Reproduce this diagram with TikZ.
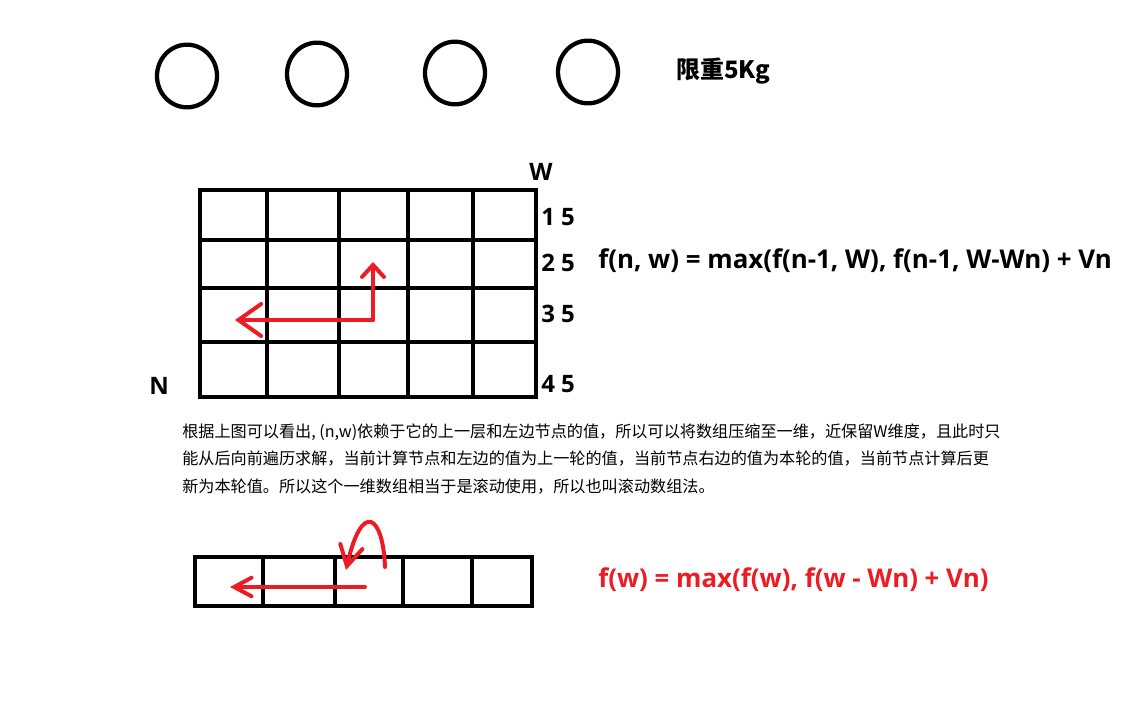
\documentclass[tikz,border=0pt]{standalone}
\usepackage{fontspec}
\setmainfont{Open Sans}
\newfontfamily\cjk{Noto Sans CJK SC}
\usetikzlibrary{arrows.meta,shapes.geometric}
\definecolor{penred}{HTML}{ED1C24}

\begin{document}
\begin{tikzpicture}[x=0.75pt, y=-0.75pt,
    ball_style/.style={draw, ellipse, line width=3.2pt, minimum width=45pt, minimum height=47pt, inner sep=0pt},
    grid_line/.style={line width=3.6pt, line cap=rect},
    red_arrow/.style={penred, line width=3pt, line cap=round},
    label_style/.style={font=\bfseries\fontsize{18pt}{20pt}\selectfont, inner sep=0pt, anchor=base west},
    formula_style/.style={font=\bfseries\fontsize{19.4pt}{22pt}\selectfont, inner sep=0pt, anchor=base west},
    note_style/.style={font=\cjk\fontsize{12.1pt}{14pt}\selectfont, inner sep=0pt, anchor=base west}
]
    \useasboundingbox (0,0) rectangle (1146,712);

    % Four items and the weight limit
    \node (ball1) at (187,76) [ball_style] {};
    \node (ball2) at (317,74) [ball_style] {};
    \node (ball3) at (455,73) [ball_style] {};
    \node (ball4) at (588,72) [ball_style] {};
    \node (limit) at (676,79) [anchor=base west, inner sep=0pt, font=\cjk\bfseries\fontsize{18pt}{20pt}\selectfont] {限重5Kg};

    % The two-dimensional table
    \foreach \x in {200,267,339,408,473,536} \draw[grid_line] (\x,190) -- (\x,397);
    \foreach \y in {190,240,288,342,397} \draw[grid_line] (200,\y) -- (536,\y);

    % Axis names and row labels
    \node (w_axis) at (529,181) [label_style] {W};
    \node (n_axis) at (149,395) [label_style] {N};
    \node (row1) at (541,226) [label_style] {1 5};
    \node (row2) at (541,272) [label_style] {2 5};
    \node (row3) at (541,323) [label_style] {3 5};
    \node (row4) at (541,393) [label_style] {4 5};

    % Dependencies of one cell
    \coordinate (cell) at (373,320);
    \coordinate (cell_up) at (373,262);
    \coordinate (cell_left) at (235,320);
    \draw[red_arrow, -{Straight Barb[length=9pt, width=16.5pt, line cap=round]}] (cell) -- (cell_up);
    \draw[red_arrow, -{Straight Barb[length=17pt, width=24pt, line cap=round]}] (cell) -- (cell_left);

    % Recurrence for the table
    \node (rec2d) at (598,269) [formula_style] {f(n, w) = max(f(n-1, W), f(n-1, W-Wn) + Vn};

    % Explanation
    \node (note1) at (182,438) [note_style] {根据上图可以看出, (n,w)依赖于它的上一层和左边节点的值，所以可以将数组压缩至一维，近保留W维度，且此时只};
    \node (note2) at (182,465) [note_style] {能从后向前遍历求解，当前计算节点和左边的值为上一轮的值，当前节点右边的值为本轮的值，当前节点计算后更};
    \node (note3) at (182,493) [note_style] {新为本轮值。所以这个一维数组相当于是滚动使用，所以也叫滚动数组法。};

    % The rolling one-dimensional array
    \foreach \x in {195,263,335,403,472,532} \draw[grid_line] (\x,557) -- (\x,606);
    \foreach \y in {557,606} \draw[grid_line] (195,\y) -- (532,\y);

    \coordinate (slot) at (365,587);
    \coordinate (slot_left) at (230,587);
    \coordinate (loop_start) at (385,567);
    \coordinate (loop_end) at (346,570);
    \draw[red_arrow, -{Straight Barb[length=13pt, width=14pt, line cap=round]}] (slot) -- (slot_left);
    \draw[red_arrow, -{Straight Barb[length=15pt, width=17pt, line cap=round]}] (loop_start) .. controls (383,515) and (362,500) .. (loop_end);

    % Recurrence for the rolling array
    \node (rec1d) at (598,587) [formula_style, text=penred] {f(w) = max(f(w), f(w - Wn) + Vn)};
\end{tikzpicture}
\end{document}
